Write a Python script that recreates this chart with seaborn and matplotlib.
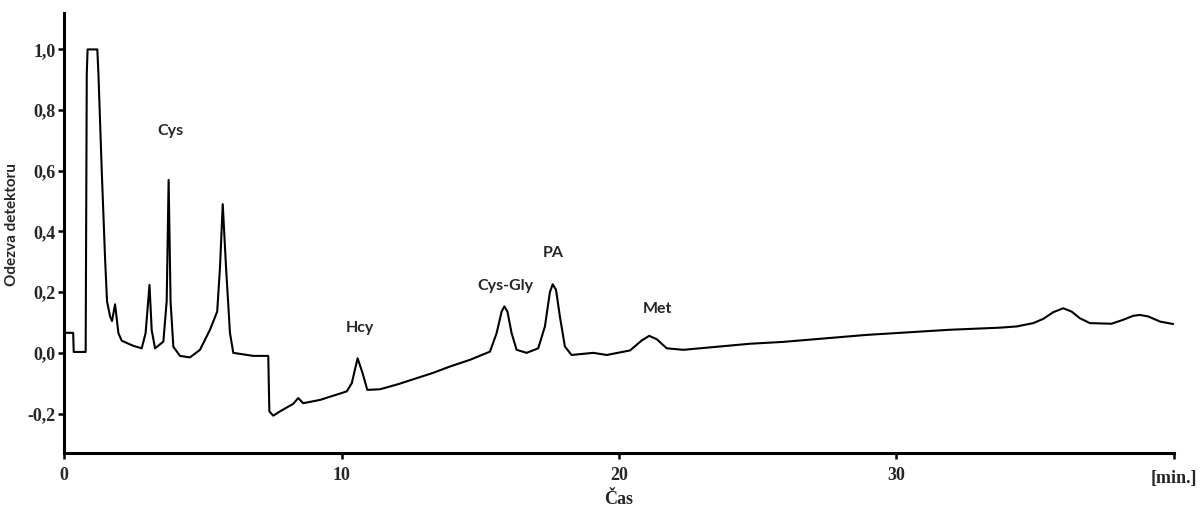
import numpy as np
import pandas as pd
import matplotlib
matplotlib.use("Agg")
import matplotlib.pyplot as plt
import seaborn as sns

# chromatogram trace (time in min, detector response)
time_min = [0.00, 0.33, 0.35, 0.78, 0.82, 0.85, 1.20, 1.24, 1.36, 1.48,
            1.55, 1.66, 1.73, 1.84, 1.96, 2.08, 2.50, 2.80, 2.94, 3.08,
            3.16, 3.28, 3.58, 3.70, 3.77, 3.84, 3.94, 4.18, 4.54, 4.90,
            5.26, 5.52, 5.62, 5.72, 5.84, 5.98, 6.10, 6.82, 7.36, 7.40,
            7.54, 7.78, 8.26, 8.44, 8.62, 9.23, 10.19, 10.37, 10.58, 10.76,
            10.93, 11.39, 12.05, 13.30, 13.91, 14.63, 15.35, 15.59, 15.77, 15.87,
            15.98, 16.13, 16.31, 16.67, 17.09, 17.33, 17.51, 17.61, 17.73, 17.87,
            18.05, 18.29, 19.07, 19.56, 20.40, 20.82, 21.09, 21.36, 21.72, 22.32,
            24.72, 25.90, 28.90, 31.90, 33.73, 34.33, 34.93, 35.29, 35.65, 36.01,
            36.31, 36.61, 36.97, 37.75, 38.17, 38.53, 38.77, 39.07, 39.50, 39.97]
response = [0.066, 0.066, 0.003, 0.003, 0.92, 1.0, 1.0, 0.92, 0.60, 0.31,
            0.17, 0.12, 0.105, 0.16, 0.065, 0.04, 0.023, 0.015, 0.065, 0.224,
            0.075, 0.015, 0.037, 0.17, 0.57, 0.17, 0.02, -0.01, -0.015, 0.01,
            0.076, 0.136, 0.28, 0.49, 0.28, 0.066, 0.0, -0.01, -0.01, -0.193,
            -0.207, -0.193, -0.168, -0.149, -0.166, -0.155, -0.127, -0.10, -0.018, -0.067,
            -0.122, -0.12, -0.103, -0.066, -0.045, -0.023, 0.004, 0.065, 0.136, 0.153,
            0.136, 0.065, 0.01, 0.0, 0.015, 0.087, 0.20, 0.226, 0.208, 0.12,
            0.021, -0.007, 0.0, -0.007, 0.008, 0.041, 0.056, 0.045, 0.015, 0.01,
            0.03, 0.036, 0.059, 0.076, 0.083, 0.087, 0.098, 0.112, 0.134, 0.147,
            0.136, 0.114, 0.098, 0.096, 0.109, 0.122, 0.125, 0.12, 0.103, 0.095]

# peak labels and where they sit
peak_names = ["Cys", "Hcy", "Cys-Gly", "PA", "Met"]
peak_t = [3.82, 10.67, 15.89, 17.62, 21.37]
peak_y = [0.731, 0.082, 0.221, 0.33, 0.145]

y_ticks = [-0.2, 0.0, 0.2, 0.4, 0.6, 0.8, 1.0]
y_tick_labels = ["-0,2", "0,0", "0,2", "0,4", "0,6", "0,8", "1,0"]
x_ticks = [0, 10, 20, 30, 40]
x_tick_labels = ["0", "10", "20", "30", ""]

df = pd.DataFrame({"t": time_min, "y": response})

sns.set_style("ticks")
serif = ["Liberation Serif", "DejaVu Serif"]
sans = ["Lato", "DejaVu Sans"]

fig = plt.figure(figsize=(12.01, 5.08), dpi=100)
ax = fig.add_axes([0.0533, 0.1083, 0.9242, 0.8661])

sns.lineplot(data=df, x="t", y="y", ax=ax, color="black", linewidth=1.5,
             estimator=None, sort=False)

ax.set_xlim(0, 40)
ax.set_ylim(-0.33, 1.12)
sns.despine(ax=ax)
for side in ["left", "bottom"]:
    ax.spines[side].set_linewidth(2.2)
    ax.spines[side].set_color("black")

ax.set_yticks(y_ticks)
ax.set_yticklabels(y_tick_labels, family=serif, fontweight="bold", fontsize=13)
ax.set_xticks(x_ticks)
ax.set_xticklabels(x_tick_labels, family=serif, fontweight="bold", fontsize=13)
ax.tick_params(axis="both", direction="out", length=4, width=1.8, color="black")
ax.tick_params(axis="y", pad=2)
ax.tick_params(axis="x", pad=6)

ax.set_xlabel("Čas", family=serif, fontweight="bold", fontsize=13)
ax.xaxis.set_label_coords(0.5, -0.086)
ax.set_ylabel("Odezva detektoru", family=sans, fontweight="bold", fontsize=11)
ax.yaxis.set_label_coords(-0.041, 0.52)

ax.text(40, -0.415, "[min.]", family=serif, fontweight="bold", fontsize=13,
        ha="center", va="center")

for name, t, y in zip(peak_names, peak_t, peak_y):
    ax.text(t, y, name, family=sans, fontweight="bold", fontsize=11.5,
            ha="center", va="center")

fig.savefig("out.png", dpi=100)
